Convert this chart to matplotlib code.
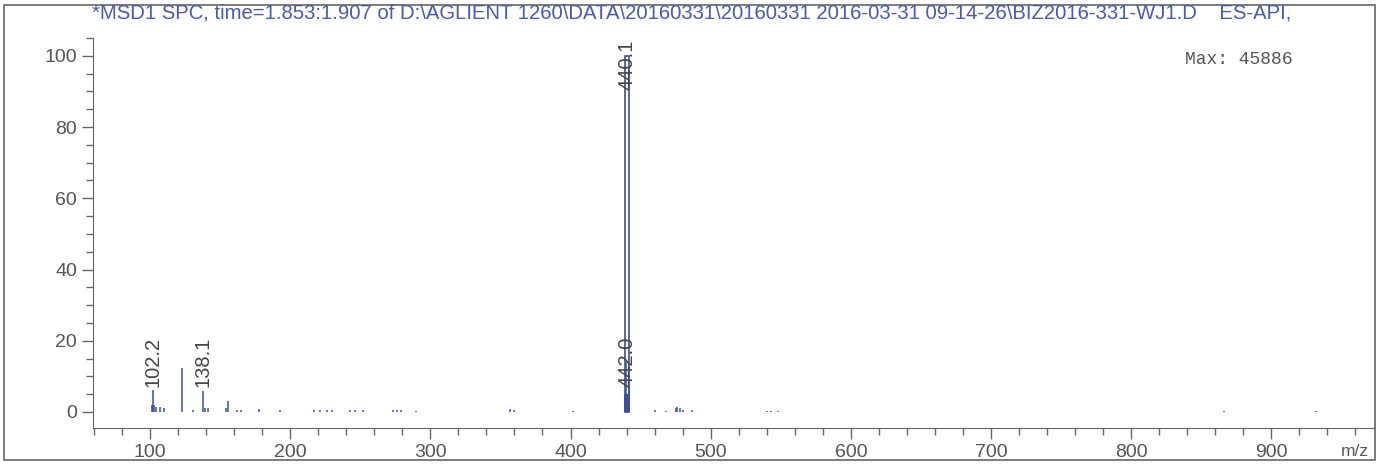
import matplotlib.pyplot as plt
from matplotlib.patches import Rectangle
from matplotlib.ticker import MultipleLocator

# spectrum peaks (m/z, relative abundance %)
mz = [101.5, 102.2, 103.0, 104.5, 107.0, 110.0, 122.8, 131.0, 137.8, 139.0,
      141.0, 154.0, 155.6, 162.0, 165.0, 178.0, 193.0, 217.0, 221.0, 226.0,
      230.0, 243.0, 246.0, 252.0, 273.0, 276.0, 279.0, 290.0, 357.0, 360.0,
      402.0, 438.9, 439.2, 439.5, 439.8, 440.4, 440.7, 441.0, 441.3, 441.6,
      442.0, 460.0, 468.0, 475.0, 476.0, 478.0, 480.0, 487.0, 540.0, 543.0,
      548.0, 866.0, 932.0]
abundance = [2.0, 6.2, 2.0, 1.5, 1.5, 1.0, 12.4, 0.6, 5.8, 1.2,
             1.0, 1.0, 3.0, 0.5, 0.5, 0.8, 0.6, 0.5, 0.5, 0.5,
             0.5, 0.6, 0.6, 0.6, 0.5, 0.5, 0.5, 0.4, 0.7, 0.6,
             0.3, 4.5, 5.0, 4.8, 14.0, 5.0, 4.8, 5.0, 4.6, 3.5,
             7.0, 0.6, 0.4, 1.2, 1.5, 1.0, 0.5, 0.5, 0.4, 0.4,
             0.3, 0.4, 0.3]
base_mz = 440.1
base_abundance = 100.0

# peak labels: text, x position, vertical centre of the label
label_text = ["102.2", "138.1", "440.1", "442.0"]
label_x = [102.2, 138.1, 440.2, 440.6]
label_y = [14.0, 14.0, 97.5, 14.0]

title = ("*MSD1 SPC, time=1.853:1.907 of D:\\AGLIENT 1260\\DATA\\20160331\\20160331 "
         "2016-03-31 09-14-26\\BIZ2016-331-WJ1.D    ES-API,")
max_text = "Max: 45886"

blue = "#3a4ea0"
gray = "#555555"

plt.rcParams['font.family'] = ['Liberation Sans', 'DejaVu Sans']

fig = plt.figure(figsize=(13.85, 4.65), dpi=100)
ax = fig.add_axes([93 / 1385, 37 / 465, (1375 - 93) / 1385, (428 - 38) / 465])

ax.vlines(mz, 0, abundance, color=blue, lw=1.1)
ax.bar(base_mz, base_abundance, width=2.6, facecolor="white", edgecolor=blue, lw=1.2)
ax.bar(440.1, 4.8, width=3.0, color=blue)

for t, x, y in zip(label_text, label_x, label_y):
    ax.text(x, y, t, rotation=90, ha="center", va="center",
            fontsize=14.5, color="#444444")

ax.set_xlim(59.3, 974)
ax.set_ylim(-4.5, 105)
ax.xaxis.set_major_locator(MultipleLocator(100))
ax.xaxis.set_minor_locator(MultipleLocator(20))
ax.yaxis.set_major_locator(MultipleLocator(20))
ax.yaxis.set_minor_locator(MultipleLocator(5))
ax.tick_params(axis="both", which="major", length=8, width=1, color="#666666",
               labelsize=14, labelcolor=gray)
ax.tick_params(axis="both", which="minor", length=5, width=1, color="#666666")
ax.set_xticks(range(100, 1000, 100))
for s in ["top", "right"]:
    ax.spines[s].set_visible(False)
for s in ["left", "bottom"]:
    ax.spines[s].set_color("#666666")

ax.text(0.852, 0.944, max_text, transform=ax.transAxes, fontsize=13,
        family="Liberation Mono", color=gray, ha="left", va="center")
fig.text(1341 / 1385, 1 - 451 / 465, "m/z", fontsize=12.5, color=gray, ha="left", va="center")
fig.text(92 / 1385, 1 - 13 / 465, title, fontsize=14.6, color="#4a5aad", ha="left", va="center")

fig.patches.append(Rectangle((4 / 1385, 5 / 465), 1371 / 1385, 455 / 465,
                             transform=fig.transFigure, fill=False,
                             edgecolor="#666666", lw=1.2))

fig.savefig("out.png", dpi=100)
